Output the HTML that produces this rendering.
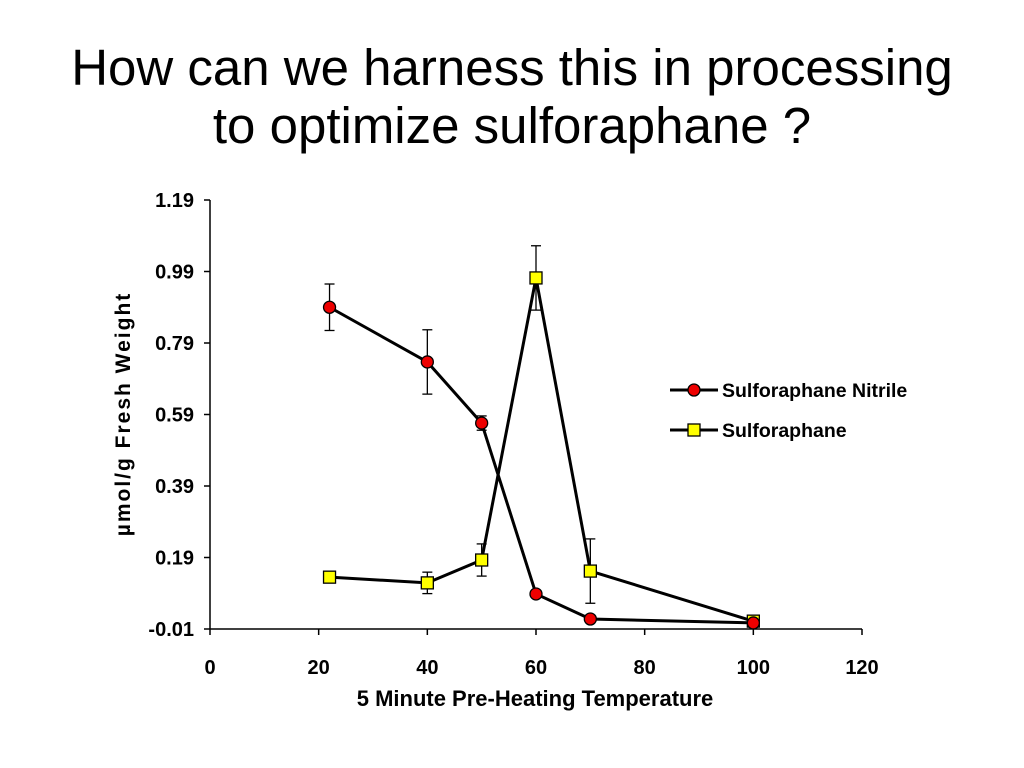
<!DOCTYPE html>
<html><head><meta charset="utf-8"><style>
body{margin:0;background:#fff;width:1024px;height:768px;overflow:hidden;font-family:"Liberation Sans",sans-serif}
#title{position:absolute;left:0;top:39px;width:1024px;text-align:center;font-size:51px;line-height:58px;color:#000}
</style></head><body>
<div id="title">How can we harness this in processing<br>to optimize sulforaphane ?</div>
<svg id="chart" width="1024" height="768" style="position:absolute;left:0;top:0" font-family="Liberation Sans, sans-serif"></svg>
<script>
const xTicks=[0,20,40,60,80,100,120];
const yTicks=[-0.01,0.19,0.39,0.59,0.79,0.99,1.19];
const temps=[22,40,50,60,70,100];
const nitrile=[0.89,0.737,0.566,0.088,0.018,0.007];
const nitrileErr=[0.065,0.09,0.02,0.01,0.01,0.005];
const sulf=[0.135,0.119,0.183,0.972,0.152,0.012];
const sulfErr=[0.01,0.03,0.045,0.09,0.09,0.01];
const NS='http://www.w3.org/2000/svg';
const svg=document.getElementById('chart');
const X0=210,X1=862,Y0=629,Y1=200;
const xs=v=>X0+(v-0)/120*(X1-X0);
const ys=v=>Y0-(v+0.01)/1.2*(Y0-Y1);
function mk(t,a,p){const e=document.createElementNS(NS,t);for(const k in a)e.setAttribute(k,a[k]);(p||svg).appendChild(e);return e;}
let e;
e=mk('line',{x1:X0,y1:Y1,x2:X0,y2:Y0,stroke:'#000','stroke-width':1.5});


e=mk('line',{x1:X0,y1:Y0,x2:X1,y2:Y0,stroke:'#000','stroke-width':1.5});


yTicks.forEach(v=>{const y=ys(v);mk('line',{x1:X0-6,y1:y,x2:X0,y2:y,stroke:'#000','stroke-width':1.5});
e=mk('text',{x:X0-16,y:y+7,'text-anchor':'end','font-size':20,'font-weight':'bold'});e.textContent=v.toFixed(2);

});
xTicks.forEach(v=>{const x=xs(v);mk('line',{x1:x,y1:Y0,x2:x,y2:Y0+6,stroke:'#000','stroke-width':1.5});
e=mk('text',{x:x,y:Y0+45,'text-anchor':'middle','font-size':20,'font-weight':'bold'});e.textContent=v;

});
e=mk('text',{x:535,y:706,'text-anchor':'middle','font-size':22,'font-weight':'bold'});e.textContent='5 Minute Pre-Heating Temperature';


e=mk('text',{x:0,y:0,'text-anchor':'middle','font-size':21,'font-weight':'bold','letter-spacing':2,transform:'translate(130,414) rotate(-90)'});e.textContent='µmol/g Fresh Weight';


function series(vals,errs,name,circle){
  const g=mk('g',{});
  
  
  temps.forEach((t,i)=>{const x=xs(t);const a=ys(vals[i]+errs[i]),b=ys(vals[i]-errs[i]);
    mk('line',{x1:x,y1:a,x2:x,y2:b,stroke:'#000','stroke-width':1.3},g);
    mk('line',{x1:x-5,y1:a,x2:x+5,y2:a,stroke:'#000','stroke-width':1.3},g);
    mk('line',{x1:x-5,y1:b,x2:x+5,y2:b,stroke:'#000','stroke-width':1.3},g);});
  mk('polyline',{points:temps.map((t,i)=>xs(t)+','+ys(vals[i])).join(' '),fill:'none',stroke:'#000','stroke-width':3},g);
  temps.forEach((t,i)=>{const x=xs(t),y=ys(vals[i]);let m;
    if(circle)m=mk('circle',{cx:x,cy:y,r:6,fill:'#e00',stroke:'#000','stroke-width':1.3},g);
    else m=mk('rect',{x:x-6,y:y-6,width:12,height:12,fill:'#ff0',stroke:'#000','stroke-width':1.3},g);
    
    });
}
series(sulf,sulfErr,'sulforaphane',false);
series(nitrile,nitrileErr,'nitrile',true);
const lg=mk('g',{});


mk('line',{x1:670,y1:390,x2:718,y2:390,stroke:'#000','stroke-width':3},lg);
mk('circle',{cx:694,cy:390,r:6,fill:'#e00',stroke:'#000','stroke-width':1.3},lg);
e=mk('text',{x:722,y:397,'font-size':19.5,'font-weight':'bold'},lg);e.textContent='Sulforaphane Nitrile';


mk('line',{x1:670,y1:430,x2:718,y2:430,stroke:'#000','stroke-width':3},lg);
mk('rect',{x:688,y:424,width:12,height:12,fill:'#ff0',stroke:'#000','stroke-width':1.3},lg);
e=mk('text',{x:722,y:437,'font-size':19.5,'font-weight':'bold'},lg);e.textContent='Sulforaphane';


</script>
</body></html>
